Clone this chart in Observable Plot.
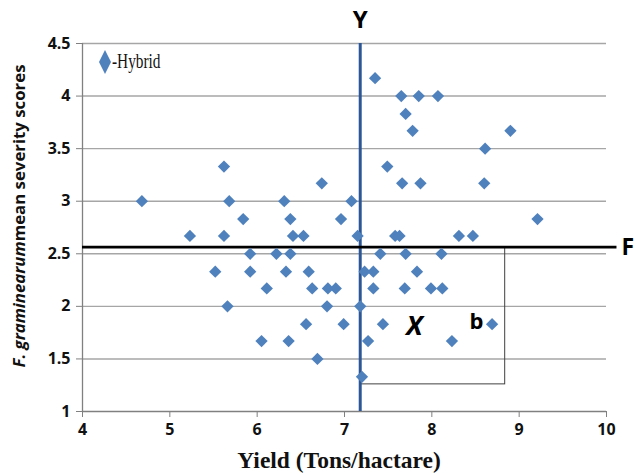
<!DOCTYPE html>
<html>
<head>
<meta charset="utf-8">
<script src="https://cdn.jsdelivr.net/npm/d3@7"></script>
<script src="https://cdn.jsdelivr.net/npm/@observablehq/plot@0.6"></script>
<style>
  body { margin: 0; background: #fff; }
  #wrap { position: relative; width: 635px; height: 474px; }
  #legend { position: absolute; left: 99px; top: 49px; display: flex; align-items: center; }
  #legend span { font-family: "Liberation Serif", "Times New Roman", serif; font-size: 21px; color: #111;
    display: inline-block; transform: scaleX(0.73); transform-origin: left center; margin-left: 1px; }
</style>
</head>
<body>
<div id="wrap">
  <div id="chart"></div>
  <div id="legend"></div>
</div>
<script>
// Hybrid points: yield (t/ha) and F. graminearum mean severity score
const yieldVals = [
  4.68, 5.23, 5.52, 5.62, 5.62, 5.66, 5.68, 5.84, 5.92, 5.92,
  6.05, 6.11, 6.22, 6.31, 6.33, 6.36, 6.38, 6.38, 6.41, 6.53,
  6.56, 6.59, 6.63, 6.69, 6.74, 6.80, 6.81, 6.90, 6.96, 6.99,
  7.08, 7.15, 7.18, 7.20, 7.23, 7.27, 7.33, 7.33, 7.35, 7.41,
  7.44, 7.49, 7.58, 7.63, 7.65, 7.66, 7.69, 7.70, 7.70, 7.78,
  7.83, 7.85, 7.87, 7.99, 8.07, 8.11, 8.12, 8.23, 8.31, 8.47,
  8.60, 8.61, 8.69, 8.90, 9.21
];
const severityVals = [
  3.00, 2.67, 2.33, 3.33, 2.67, 2.00, 3.00, 2.83, 2.50, 2.33,
  1.67, 2.17, 2.50, 3.00, 2.33, 1.67, 2.83, 2.50, 2.67, 2.67,
  1.83, 2.33, 2.17, 1.50, 3.17, 2.00, 2.17, 2.17, 2.83, 1.83,
  3.00, 2.67, 2.00, 1.33, 2.33, 1.67, 2.33, 2.17, 4.17, 2.50,
  1.83, 3.33, 2.67, 2.67, 4.00, 3.17, 2.17, 3.83, 2.50, 3.67,
  2.33, 4.00, 3.17, 2.17, 4.00, 2.50, 2.17, 1.67, 2.67, 2.67,
  3.17, 3.50, 1.83, 3.67, 2.83
];
const seriesName = "-Hybrid";
const xTicks = [4, 5, 6, 7, 8, 9, 10];
const yTicks = [1, 1.5, 2, 2.5, 3, 3.5, 4, 4.5];
const yieldThreshold = [7.18];      // "Y" line
const severityThreshold = [2.563];  // "F" line
const boxX = [7.18, 8.84];
const boxY = [1.258, 2.563];
const annoLabels = ["Y", "F", "X", "b"];
const annoX = [7.18, 10, 7.80, 8.51];
const annoY = [4.5, 2.563, 1.81, 1.85];

const points = yieldVals.map((v, i) => ({yield: v, severity: severityVals[i]}));
const box = [{x1: boxX[0], x2: boxX[1], y1: boxY[0], y2: boxY[1]}];
const annos = annoLabels.map((t, i) => ({t, x: annoX[i], y: annoY[i]}));

const blue = "#4F81BD";
const font = "'Open Sans', sans-serif";

const chart = Plot.plot({
  width: 635,
  height: 474,
  marginLeft: 82,
  marginRight: 29,
  marginTop: 43,
  marginBottom: 63,
  style: {fontFamily: font, fontWeight: "bold", fontSize: "16px", color: "#111", background: "#fff"},
  x: {domain: [4, 10]},
  y: {domain: [1, 4.5]},
  marks: [
    Plot.ruleY(yTicks.filter(d => d > 1), {y: d => d, stroke: "#a6a6a6", strokeWidth: 1.4}),
    Plot.ruleX([4], {stroke: "#808080", strokeWidth: 1.3}),
    Plot.ruleY([1], {stroke: "#808080", strokeWidth: 1.3}),
    Plot.axisX({ticks: xTicks, tickFormat: d => String(d), tickSize: 6, tickPadding: 6, label: null, stroke: "#808080", fill: "#111"}),
    Plot.axisY({ticks: yTicks, tickFormat: d => String(d), tickSize: 6, tickPadding: 6, label: null, stroke: "#808080", fill: "#111"}),
    Plot.rect(box, {x1: "x1", x2: "x2", y1: "y1", y2: "y2", fill: "none", stroke: "#404040", strokeWidth: 1}),
    Plot.ruleX(yieldThreshold, {x: d => d, stroke: "#2C5797", strokeWidth: 3}),
    Plot.ruleY(severityThreshold, {y: d => d, x1: 4, x2: 10.12, stroke: "#000", strokeWidth: 2.8}),
    Plot.dot(points, {x: "yield", y: "severity", symbol: "square", r: 4.9, rotate: 45, fill: blue, stroke: "none"}),
    Plot.text(annos.filter(d => d.t === "Y"), {x: "x", y: "y", text: "t", dy: -23, fontSize: 24, fontWeight: "bold", fill: "#000"}),
    Plot.text(annos.filter(d => d.t === "F"), {x: "x", y: "y", text: "t", dx: 15, textAnchor: "start", fontSize: 23, fontWeight: "bold", fill: "#000"}),
    Plot.text(annos.filter(d => d.t === "X"), {x: "x", y: "y", text: "t", fontSize: 27, fontWeight: "bold", fontStyle: "italic", fill: "#000"}),
    Plot.text(annos.filter(d => d.t === "b"), {x: "x", y: "y", text: "t", fontSize: 22, fontWeight: "bold", fill: "#000"})
  ]
});

document.getElementById("chart").appendChild(chart);

const svg = d3.select(chart);
// y-axis title
const yt = svg.append("text")
  .attr("transform", "translate(20,216) rotate(-90)")
  .attr("text-anchor", "middle")
  .attr("dominant-baseline", "middle")
  .style("font-family", font)
  .style("font-weight", "bold")
  .style("font-size", "16.8px")
  .attr("fill", "#111");
yt.append("tspan").style("font-style", "italic").text("F. graminearum");
yt.append("tspan").text("mean severity scores");
// x-axis title
svg.append("text")
  .attr("x", 339).attr("y", 468)
  .attr("text-anchor", "middle")
  .style("font-family", "'Liberation Serif', 'Times New Roman', serif")
  .style("font-weight", "bold")
  .style("font-size", "23.5px")
  .attr("fill", "#111")
  .text("Yield (Tons/hactare)");

// legend
const leg = document.getElementById("legend");
leg.innerHTML = `<svg width="12" height="24" viewBox="0 0 12 24"><path d="M6 0 L12 12 L6 24 L0 12 Z" fill="${blue}"/></svg><span>${seriesName}</span>`;
</script>
</body>
</html>
